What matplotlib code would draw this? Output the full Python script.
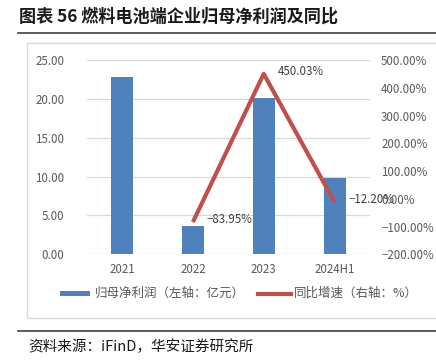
import matplotlib
matplotlib.use("Agg")
import matplotlib.pyplot as plt
from matplotlib.patches import Rectangle
from matplotlib.lines import Line2D

plt.rcParams['font.family'] = ['Noto Sans CJK SC', 'DejaVu Sans']
plt.rcParams['axes.unicode_minus'] = True

categories = ["2021", "2022", "2023", "2024H1"]
profit = [22.78, 3.64, 20.08, 9.86]          # 亿元
growth_cats = ["2022", "2023", "2024H1"]
growth = [-83.95, 450.03, -12.20]             # %
left_ticks = [0, 5, 10, 15, 20, 25]
right_ticks = [-200, -100, 0, 100, 200, 300, 400, 500]

W, H = 436, 361
fig = plt.figure(figsize=(W / 100, H / 100), dpi=100)

def fx(px): return px / W
def fy(py): return 1 - py / H

# title and rules
fig.text(fx(19), fy(17), "图表 56 燃料电池端企业归母净利润及同比", fontsize=12.3,
         fontweight='bold', color='#1a1a1a', va='center', ha='left')
fig.add_artist(Line2D([fx(18), 1], [fy(33), fy(33)], color='#404040', lw=1.2))
fig.add_artist(Line2D([fx(18), 1], [fy(331), fy(331)], color='#404040', lw=1.2))
fig.text(fx(28), fy(347), "资料来源：iFinD，华安证券研究所", fontsize=10.5,
         color='#1a1a1a', va='center', ha='left')

# chart frame
fig.add_artist(Rectangle((fx(27), fy(318)), 1 - fx(27) + 0.01, fy(43) - fy(318),
                         fill=False, edgecolor='#D9D9D9', lw=1))

ax = fig.add_axes([fx(86.6), fy(254.3), fx(370) - fx(86.6), fy(60) - fy(254.3)])
x = list(range(len(categories)))
ax.bar(x, profit, width=0.31, color='#4F81BD', zorder=2)
ax.set_xlim(-0.5, len(categories) - 0.5)
ax.set_ylim(0, 25)
ax.set_yticks(left_ticks)
ax.set_yticklabels([f"{v:.2f}" for v in left_ticks])
ax.set_xticks(x)
ax.set_xticklabels(categories)
ax.grid(axis='y', color='#D9D9D9', lw=0.9, zorder=0)
for s in ax.spines.values():
    s.set_visible(False)
ax.tick_params(axis='both', length=0, colors='#595959', labelsize=8.3)
ax.tick_params(axis='y', pad=16)
ax.tick_params(axis='x', pad=6)

ax2 = ax.twinx()
gx = [categories.index(c) for c in growth_cats]
ax2.plot(gx, growth, color='#C0504D', lw=3, zorder=3, solid_capstyle='butt')
ax2.set_ylim(-200, 500)
ax2.set_yticks(right_ticks)
ax2.set_yticklabels([f"{v:.2f}%".replace('-', '−') for v in right_ticks])
for s in ax2.spines.values():
    s.set_visible(False)
ax2.tick_params(axis='y', length=0, colors='#595959', labelsize=8.3, pad=8)
for xi, v in zip(gx, growth):
    ax2.annotate(f"{v:.2f}%".replace('-', '−'), (xi, v), xytext=(10, 2),
                 textcoords='offset points', fontsize=8.3, color='#404040',
                 ha='left', va='center')

# legend
fig.add_artist(Rectangle((fx(60), fy(295.5)), fx(90) - fx(60), fy(291) - fy(295.5),
                         facecolor='#4F81BD', edgecolor='none'))
fig.text(fx(95), fy(293), "归母净利润（左轴：亿元）", fontsize=9, color='#595959',
         va='center', ha='left')
fig.add_artist(Line2D([fx(258), fx(291)], [fy(293.5), fy(293.5)], color='#C0504D', lw=3))
fig.text(fx(294), fy(293), "同比增速（右轴：%）", fontsize=9, color='#595959',
         va='center', ha='left')

fig.savefig("out.png", dpi=100)
